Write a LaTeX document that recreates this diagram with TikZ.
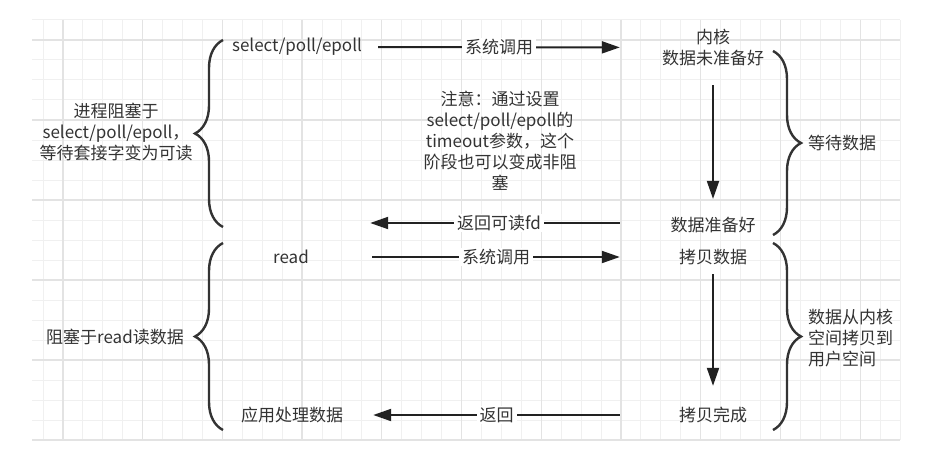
\documentclass[tikz,border=0pt]{standalone}
\usepackage{fontspec}
\setmainfont{Noto Sans CJK SC}
\usepackage{xcolor}
\usepackage{tikz}
\usetikzlibrary{arrows.meta, decorations.pathreplacing}
\definecolor{textgray}{HTML}{333333}
\definecolor{linedark}{HTML}{222222}
\definecolor{gridminor}{HTML}{F0F0F0}
\definecolor{gridmajor}{HTML}{E3E3E3}
\tikzset{
  txt/.style={
    inner sep=3pt, text=textgray,
    font=\fontsize{17pt}{21pt}\selectfont,
  },
  leftcol/.style={txt, minimum width=162pt},
  rightcol/.style={txt, align=center, minimum width=186pt},
  arrow/.style={-{Triangle[length=18pt,width=12pt]}, line width=2pt, draw=linedark},
  lbl/.style={txt, fill=white, inner xsep=3pt, inner ysep=1pt},
  brc/.style={decorate, decoration={brace, amplitude=28pt}, line width=2.4pt, draw=textgray},
  minorline/.style={draw=gridminor, line width=1pt},
  majorline/.style={draw=gridmajor, line width=1.3pt},
}
\begin{document}
\begin{tikzpicture}[x=1pt, y=-1pt]
  \useasboundingbox (0,0) rectangle (933,468);

  % grid
  \foreach \j in {0,...,21} \draw[minorline] (32,20+20*\j) -- (900,20+20*\j);
  \foreach \k in {0,...,43} \draw[minorline] ({900-19.93*\k},20) -- ({900-19.93*\k},440);
  \foreach \j in {1,5,...,21} \draw[majorline] (32,20+20*\j) -- (900,20+20*\j);
  \foreach \k in {2,6,...,42} \draw[majorline] ({900-19.93*\k},20) -- ({900-19.93*\k},440);

  \node[leftcol] (sel) at (297,47) {select/poll/epoll};
  \node[rightcol] (kern) at (713,47.5) {内核\\数据未准备好};
  \node[rightcol] (ready) at (713,225) {数据准备好};
  \node[txt, align=center] (note) at (500,141) {注意：通过设置\\select/poll/epoll的\\timeout参数，这个\\阶段也可以变成非阻\\塞};
  \node[txt, align=center] (waitl) at (116,132) {进程阻塞于\\select/poll/epoll，\\等待套接字变为可读};
  \node[txt, anchor=west] (waitr) at (805,143) {等待数据};

  \node[leftcol] (read) at (291,257) {read};
  \node[rightcol] (copy) at (713,257) {拷贝数据};
  \node[leftcol] (app) at (292,415) {应用处理数据};
  \node[rightcol] (done) at (713,415) {拷贝完成};
  \node[txt] (readl) at (115,337) {阻塞于read读数据};
  \node[txt, anchor=west, align=left] (copyr) at (805,338) {数据从内核\\空间拷贝到\\用户空间};

  \draw[arrow] (sel) -- node[lbl]{系统调用} (kern);
  \draw[arrow, shorten <=16pt, shorten >=15pt] (kern) -- (ready);
  \draw[arrow, shorten >=-8pt] (ready.west |- 0,223) -- node[lbl]{返回可读fd} (sel.east |- 0,223);
  \draw[arrow] (read) -- node[lbl]{系统调用} (copy);
  \draw[arrow, shorten <=6pt, shorten >=18pt] (copy) -- (done);
  \draw[arrow] (done) -- node[lbl]{返回} (app);

  \draw[brc] (223,227) -- (223,40);
  \draw[brc] (223,430) -- (223,243);
  \draw[brc] (773,51) -- (773,235);
  \draw[brc] (773,243) -- (773,430);

\end{tikzpicture}
\end{document}
